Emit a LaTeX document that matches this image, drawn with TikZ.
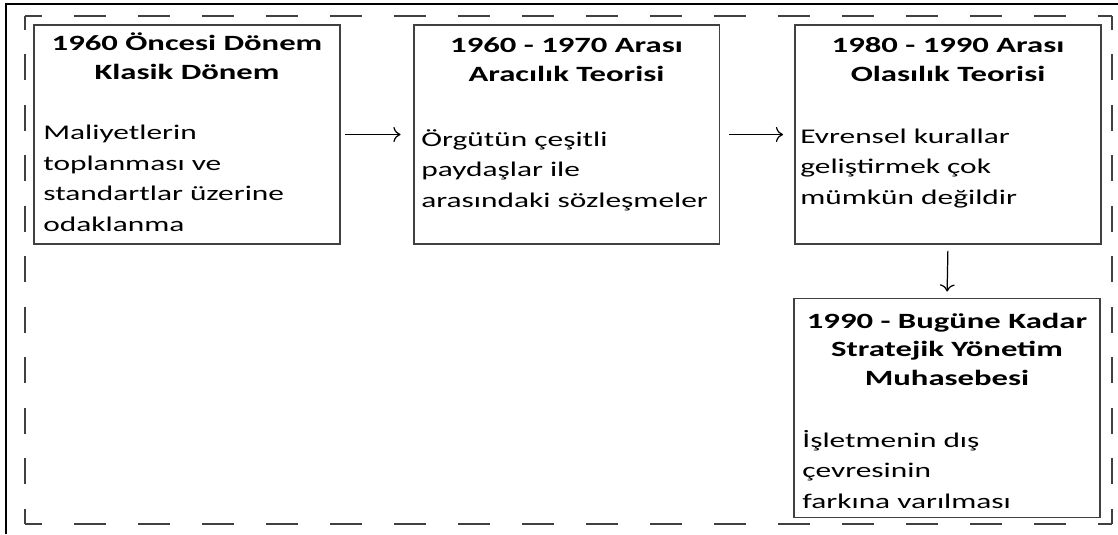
\documentclass[tikz,border=0pt]{standalone}
\usepackage{fontspec}
\setmainfont[FakeStretch=1.5]{Carlito}
\usetikzlibrary{arrows.meta}
\begin{document}
\begin{tikzpicture}[x=0.02cm, y=-0.02cm,
  box/.style={draw=black!75, line width=1.1pt, minimum width=6.12cm, minimum height=4.38cm, inner sep=0pt, outer sep=0pt},
  ttl/.style={align=center, inner sep=0pt, font=\fontsize{12.4}{16.2}\selectfont\bfseries},
  txt/.style={align=left, inner sep=0pt, font=\fontsize{11.9}{17.3}\selectfont},
  hdash/.style={draw=black!75, line width=1.1pt, dash pattern=on 0.64cm off 0.64cm, dash phase=0.3cm},
  vdash/.style={draw=black!75, line width=1.1pt, dash pattern=on 0.52cm off 0.49cm, dash phase=0.24cm}]
\useasboundingbox (0,0) rectangle (1118,534);

\draw [line width=0.6pt] (6,534) -- (6,4) -- (1118,4);
\draw [hdash] (25,16) -- (1112,16);
\draw [hdash] (25,524) -- (1112,524);
\draw [vdash] (25,16) -- (25,524);
\draw [vdash] (1112,16) -- (1112,524);

\node [box] (b1) at (187,134.5) {};
\node [box] (b2) at (566.5,134.5) {};
\node [box] (b3) at (948,134.5) {};
\node [box] (b4) at (947,408) {};

% anchors sit on the last line
\node [ttl, anchor=base] (t1) at (187,79) {1960 Öncesi Dönem\\Klasik Dönem};
\node [txt, anchor=base west] (x1) at (43,231) {Maliyetlerin\\toplanması ve\\standartlar üzerine\\odaklanma};
\node [ttl, anchor=base] (t2) at (566.5,81) {1960 - 1970 Arası\\Aracılık Teorisi};
\node [txt, anchor=base west] (x2) at (421,207) {Örgütün çeşitli\\paydaşlar ile\\arasındaki sözleşmeler};
\node [ttl, anchor=base] (t3) at (948,81) {1980 - 1990 Arası\\Olasılık Teorisi};
\node [txt, anchor=base west] (x3) at (800,204) {Evrensel kurallar\\geliştirmek çok\\mümkün değildir};
\node [ttl, anchor=base] (t4) at (947,385) {1990 - Bugüne Kadar\\Stratejik Yönetim\\Muhasebesi};
\node [txt, anchor=base west] (x4) at (802,508) {İşletmenin dış\\çevresinin\\farkına varılması};

\draw [>={To[scale=1.3]}, ->, line width=0.7pt, shorten <=0.1cm, shorten >=0.26cm] (b1.east) -- (b2.west);
\draw [>={To[scale=1.3]}, ->, line width=0.7pt, shorten <=0.2cm, shorten >=0.24cm] (b2.east) -- (b3.west);
\draw [>={To[scale=1.3]}, ->, line width=0.7pt, shorten <=0.14cm, shorten >=0.14cm] (b3.south) -- (b4.north);
\end{tikzpicture}
\end{document}
